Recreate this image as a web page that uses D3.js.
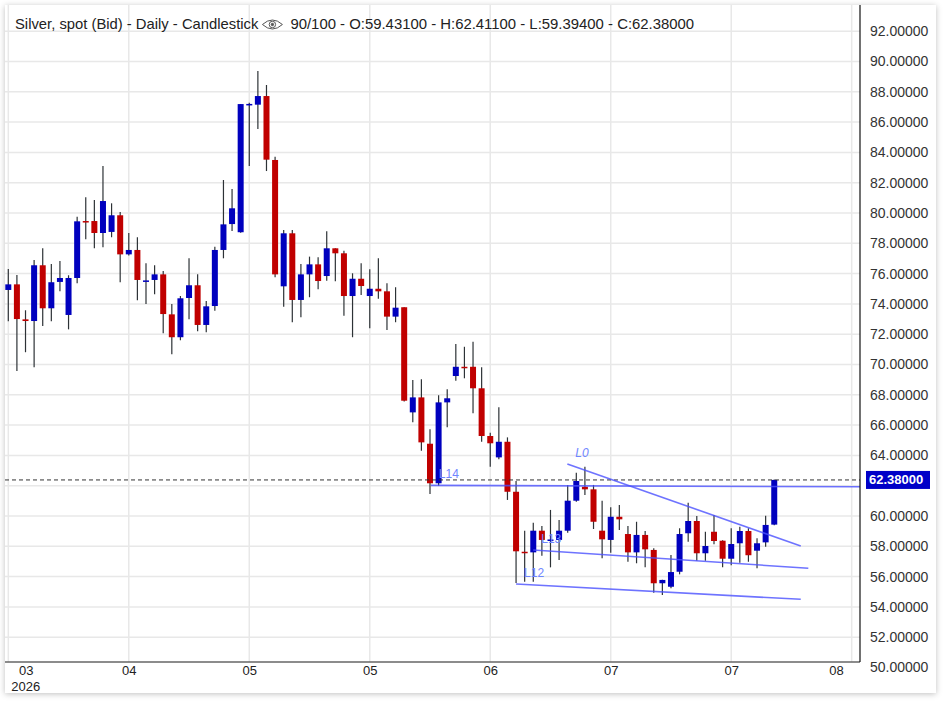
<!DOCTYPE html>
<html>
<head>
<meta charset="utf-8">
<script src="https://cdn.jsdelivr.net/npm/d3@7"></script>
<style>
  body { margin: 0; background: #fff; font-family: "Liberation Sans", Arial, sans-serif; }
  #card { position: absolute; left: 5px; top: 5px; width: 931px; height: 688px; background: #fff;
          box-shadow: 0 1px 6px rgba(0,0,0,0.25); }
  svg { position: absolute; left: 0; top: 0; }
</style>
</head>
<body>
<div id="card"></div>
<script>
// daily candles, oldest first (90 of them)
const opens = [74.92,75.29,72.98,72.87,76.55,73.71,75.45,73.27,75.71,79.47,
  79.47,78.68,78.75,79.85,77.27,77.56,75.50,75.58,75.95,73.31,
  71.80,74.39,75.23,72.61,73.86,77.56,79.27,78.73,87.15,87.15,
  87.72,83.50,75.16,78.66,74.26,75.95,76.61,75.84,77.67,77.34,
  74.52,75.66,74.52,75.00,74.83,73.16,73.78,66.84,67.83,64.77,
  62.16,67.50,69.24,69.85,69.85,68.43,65.28,63.87,64.90,61.60,
  57.64,57.60,59.03,58.38,58.42,59.03,61.01,61.93,61.76,59.03,
  58.42,59.95,58.81,57.60,58.75,57.76,55.56,55.33,56.32,58.86,
  59.67,57.54,58.96,58.37,57.18,58.20,59.01,57.71,58.26,59.431]
const highs = [76.30,75.91,73.58,76.90,77.67,76.63,76.83,75.89,79.76,81.04,
  80.86,83.10,80.64,80.07,78.68,78.40,76.68,76.55,76.17,74.00,
  74.52,77.01,75.95,74.19,77.78,82.18,81.58,87.19,87.28,89.37,
  88.45,83.72,78.88,78.88,76.63,77.12,77.08,78.79,77.67,77.51,
  76.02,76.68,76.28,77.01,75.36,75.10,73.78,68.98,69.02,65.72,
  67.97,68.36,71.35,71.17,71.50,69.82,65.50,67.17,65.19,62.31,
  59.03,59.56,59.34,60.40,59.74,62.05,62.86,63.25,62.05,61.01,
  60.57,60.73,59.34,59.62,59.01,57.87,55.80,57.43,59.19,60.88,
  60.00,58.96,60.07,58.40,59.19,59.29,59.19,58.53,60.02,62.411]
const lows = [72.85,69.57,70.81,69.82,72.54,72.85,74.83,72.32,75.36,78.26,
  77.67,77.74,78.40,75.43,77.20,74.24,74.00,74.63,72.06,70.67,
  71.60,72.98,72.19,72.13,73.55,77.01,78.81,78.70,83.10,85.54,
  82.77,75.76,73.82,72.79,73.12,74.44,74.96,75.53,75.49,73.22,
  71.80,74.59,72.39,74.34,72.28,72.79,67.55,66.18,64.31,61.45,
  62.00,65.85,68.93,69.09,66.78,64.90,63.25,63.74,61.06,55.58,
  55.66,55.66,57.38,56.61,57.10,58.90,60.94,61.39,59.14,57.21,
  57.58,59.08,56.98,56.88,56.61,54.94,54.79,55.23,56.15,58.30,
  57.05,57.05,58.13,56.61,56.75,56.92,56.98,56.55,57.97,59.394]
const closes = [75.29,73.00,72.87,76.55,73.71,75.43,75.71,75.71,79.45,79.40,
  78.68,80.79,79.85,77.27,77.56,75.58,75.55,75.95,73.33,71.80,
  74.37,75.23,72.61,73.84,77.56,79.25,80.31,87.19,87.20,87.72,
  83.52,75.95,78.66,74.26,75.95,76.61,75.51,77.67,77.34,74.52,
  75.66,75.18,75.00,74.83,73.16,73.75,67.61,67.83,64.86,62.16,
  67.50,67.77,69.85,69.79,68.43,65.28,64.80,64.90,61.60,57.67,
  57.58,59.03,58.42,58.45,59.03,61.01,62.31,61.76,59.62,58.46,
  59.95,59.78,57.60,58.75,57.80,55.56,55.78,56.30,58.81,59.67,
  57.54,58.02,58.35,57.18,58.15,59.01,57.41,58.20,59.41,62.38]

const xTickIndex = [0,14,28,42,56,70,84,98]
const xTickLabels = ["03","04","05","05","06","07","07","08"]
const yearLabel = "2026"
const yTickValues = [50,52,54,56,58,60,62,64,66,68,70,72,74,76,78,80,82,84,86,88,90,92]

// drawn trend lines: start/end as (candle index, price)
const lineNames = ["L14","L0","L13","L12"]
const lineX1 = [49.1, 64.96, 61.0, 59.0]
const lineY1 = [62.02, 63.43, 57.76, 55.51]
const lineX2 = [99.5, 92.08, 92.96, 92.08]
const lineY2 = [61.93, 58.02, 56.55, 54.50]

const lastPrice = 62.38
const titleMain = "Silver, spot (Bid) - Daily - Candlestick"
const titleInfo = "90/100 - O:59.43100 - H:62.41100 - L:59.39400 - C:62.38000"

const W = 945, H = 715
const plot = {left: 5, right: 860, top: 5, bottom: 662}

const svg = d3.select("body").append("svg").attr("width", W).attr("height", H)

const x = d3.scaleLinear().domain([0, 98]).range([8.3, 851.7])
const y = d3.scaleLinear().domain([50, 92]).range([667.5, 31.2])
const bodyW = 6

svg.append("clipPath").attr("id", "clip")
  .append("rect")
  .attr("x", plot.left).attr("y", plot.top)
  .attr("width", plot.right - plot.left).attr("height", plot.bottom - plot.top)

const g = svg.append("g").attr("clip-path", "url(#clip)")

// grid
g.selectAll(".hgrid").data(yTickValues).enter().append("line")
  .attr("x1", plot.left).attr("x2", plot.right)
  .attr("y1", d => y(d)).attr("y2", d => y(d))
  .attr("stroke", "#e8e8e8").attr("stroke-width", 1.5)
g.selectAll(".vgrid").data(xTickIndex).enter().append("line")
  .attr("x1", d => x(d)).attr("x2", d => x(d))
  .attr("y1", plot.top).attr("y2", plot.bottom)
  .attr("stroke", "#e8e8e8").attr("stroke-width", 1.5)

// candles
const candles = opens.map((o, i) => ({i: i, o: o, h: highs[i], l: lows[i], c: closes[i]}))
const cg = g.selectAll(".candle").data(candles).enter().append("g")

cg.append("line")
  .attr("x1", d => x(d.i)).attr("x2", d => x(d.i))
  .attr("y1", d => y(d.h)).attr("y2", d => y(d.l))
  .attr("stroke", "#2d3236").attr("stroke-width", 1.2)

cg.append("rect")
  .attr("x", d => x(d.i) - bodyW / 2)
  .attr("width", bodyW)
  .attr("y", d => y(Math.max(d.o, d.c)))
  .attr("height", d => Math.max(1.5, Math.abs(y(d.o) - y(d.c))))
  .attr("fill", d => d.c >= d.o ? "#0000be" : "#c00000")

// last price dashed line
g.append("line")
  .attr("x1", plot.left).attr("x2", plot.right)
  .attr("y1", y(lastPrice)).attr("y2", y(lastPrice))
  .attr("stroke", "#333").attr("stroke-dasharray", "4,3")

// trend lines and their labels
lineNames.forEach((name, k) => {
  g.append("line")
    .attr("x1", x(lineX1[k])).attr("y1", y(lineY1[k]))
    .attr("x2", x(lineX2[k])).attr("y2", y(lineY2[k]))
    .attr("stroke", "#4a50ff").attr("stroke-opacity", 0.8).attr("stroke-width", 1.6)
  g.append("text")
    .attr("x", x(lineX1[k]) + 8).attr("y", y(lineY1[k]) - 7)
    .attr("font-size", 12)
    .attr("font-style", name === "L0" ? "italic" : "normal")
    .attr("fill", "#6f86ff")
    .text(name)
})

// axes
const xAxis = svg.append("g")
  .attr("transform", "translate(0," + plot.bottom + ")")
  .call(d3.axisBottom(x).tickValues(xTickIndex).tickFormat((d, i) => xTickLabels[i]).tickSize(0).tickPadding(4))
xAxis.select(".domain").remove()
xAxis.selectAll("text").attr("font-size", 13).attr("font-family", "Liberation Sans, Arial").attr("fill", "#222")
xAxis.selectAll(".tick").filter((d, i) => i === 0).select("text").attr("dx", 17.5)
xAxis.selectAll(".tick").filter((d, i) => i === xTickIndex.length - 1).select("text")
  .attr("text-anchor", "end").attr("dx", -8.5)
xAxis.append("text")
  .attr("x", x(0) + 17.5).attr("y", 28.5)
  .attr("text-anchor", "middle").attr("font-size", 13).attr("fill", "#222")
  .text(yearLabel)

svg.append("line")
  .attr("x1", plot.left).attr("x2", plot.right)
  .attr("y1", plot.bottom).attr("y2", plot.bottom)
  .attr("stroke", "#666").attr("stroke-width", 1.5)

// the price tag hides the tick label it sits on
const yShown = yTickValues.filter(v => Math.abs(y(v) - y(lastPrice)) > 14)
const yAxis = svg.append("g")
  .attr("transform", "translate(" + plot.right + ",0)")
  .call(d3.axisRight(y).tickValues(yShown).tickFormat(d3.format(".5f")).tickSize(0).tickPadding(10))
yAxis.select(".domain").remove()
yAxis.selectAll("text").attr("font-size", 14).attr("font-family", "Liberation Sans, Arial").attr("fill", "#333")

svg.append("line")
  .attr("x1", plot.right).attr("x2", plot.right)
  .attr("y1", plot.top).attr("y2", plot.bottom)
  .attr("stroke", "#111").attr("stroke-width", 1.2)

// last price tag
svg.append("rect")
  .attr("x", plot.right + 6).attr("y", y(lastPrice) - 9)
  .attr("width", 64).attr("height", 18)
  .attr("fill", "#0000c8")
svg.append("text")
  .attr("x", plot.right + 9).attr("y", y(lastPrice)).attr("dy", "0.35em")
  .attr("font-size", 13).attr("font-weight", "bold").attr("fill", "#fff")
  .text(d3.format(".5f")(lastPrice))

// title
const t1 = svg.append("text")
  .attr("x", 15).attr("y", 28.5)
  .attr("font-size", 14.8).attr("fill", "#222")
  .text(titleMain)
const t1w = t1.node().getComputedTextLength()
const eyeX = 15 + t1w + 14
const eye = svg.append("g").attr("transform", "translate(" + eyeX + ",24.5)")
  .attr("fill", "none").attr("stroke", "#555").attr("stroke-width", 1)
eye.append("path").attr("d", "M-10,0 Q0,-9 10,0 Q0,9 -10,0 Z")
eye.append("circle").attr("r", 3.2)
eye.append("circle").attr("r", 1.2).attr("fill", "#555")
svg.append("text")
  .attr("x", eyeX + 18).attr("y", 28.5)
  .attr("font-size", 14.9).attr("fill", "#222")
  .text(titleInfo)
</script>
</body>
</html>
